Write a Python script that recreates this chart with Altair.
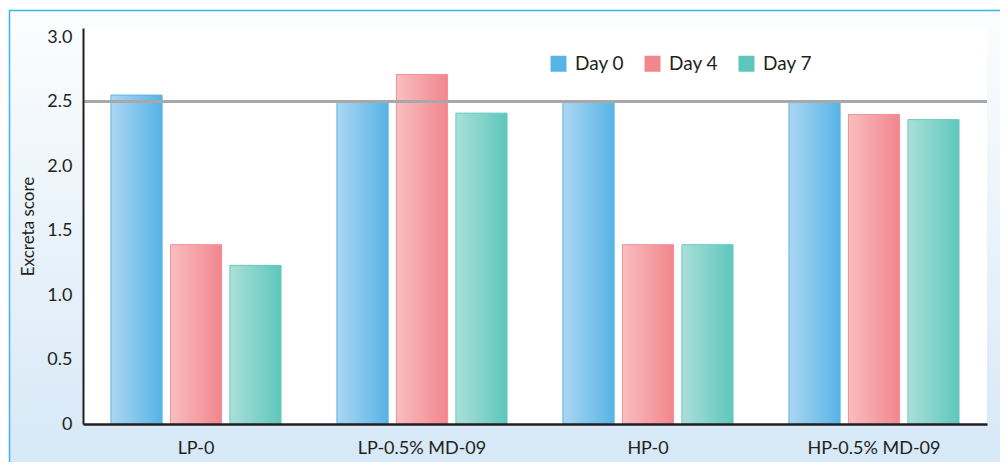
import altair as alt
import pandas as pd

groups = ["LP-0", "LP-0.5% MD-09", "HP-0", "HP-0.5% MD-09"]
days = ["Day 0", "Day 4", "Day 7"]
day0 = [2.55, 2.50, 2.50, 2.50]
day4 = [1.39, 2.71, 1.39, 2.40]
day7 = [1.23, 2.41, 1.39, 2.36]
ref_value = 2.5
y_ticks = [0, 0.5, 1.0, 1.5, 2.0, 2.5, 3.0]

solid = ["#56b4e6", "#f2868d", "#5ec7bc"]
light = ["#acd6f2", "#f8bec1", "#abdfd9"]
edge = ["#5fb6e6", "#f39098", "#6ecbc1"]

FONT = "Lato"
TXT = "#231f20"
W, H = 904, 396

rows = []
for g, a, b, c in zip(groups, day0, day4, day7):
    for d, v in zip(days, [a, b, c]):
        rows.append({"Group": g, "Day": d, "Score": v})
df = pd.DataFrame(rows)

x_enc = alt.X("Group:N", sort=groups,
              scale=alt.Scale(paddingInner=0, paddingOuter=0),
              axis=alt.Axis(title=None, labelAngle=0, labelFontSize=18, labelFont=FONT,
                            labelColor=TXT, labelPadding=15, ticks=False,
                            domainColor=TXT, domainWidth=2.5, zindex=2))
xo_enc = alt.XOffset("Day:N", sort=days,
                     scale=alt.Scale(domain=days, paddingInner=0.14, paddingOuter=0.47))
y_enc = alt.Y("Score:Q",
              scale=alt.Scale(domain=[0, 3.07], nice=False, zero=True),
              axis=alt.Axis(values=y_ticks, grid=False, ticks=False,
                            labelExpr="datum.value == 0 ? '0' : format(datum.value, '.1f')",
                            labelFontSize=18, labelFont=FONT, labelColor=TXT, labelPadding=11,
                            domainColor=TXT, domainWidth=2, zindex=2,
                            title="Excreta score", titleFont=FONT, titleFontSize=17,
                            titleFontWeight="normal", titleColor=TXT,
                            titleX=-55, titleY=H / 2, titleAngle=-90,
                            titleAlign="center", titleBaseline="middle"))

bg_grad = alt.LinearGradient(
    gradient="linear", x1=0, x2=0, y1=0, y2=1,
    stops=[alt.GradientStop(offset=0, color="#fcfdfe"),
           alt.GradientStop(offset=1, color="#d3e6f6")])

background = alt.Chart(alt.Data(values=[{"k": 1}])).mark_rect(
    fill=bg_grad, stroke="#3ab4ea", strokeWidth=1.5
).encode(x=alt.value(-73.5), x2=alt.value(W + 40), y=alt.value(-17.5), y2=alt.value(H + 80))

plot_bg = alt.Chart(alt.Data(values=[{"k": 1}])).mark_rect(fill="white").encode(
    x=alt.value(0), x2=alt.value(W), y=alt.value(0), y2=alt.value(H))

legend_bars = alt.Chart(df).mark_bar().encode(
    x=x_enc, xOffset=xo_enc, y=y_enc,
    color=alt.Color("Day:N", sort=days, scale=alt.Scale(domain=days, range=solid),
                    legend=alt.Legend(title=None, orient="none", legendX=466, legendY=26,
                                      direction="horizontal", symbolType="square",
                                      symbolSize=256, symbolStrokeWidth=0,
                                      labelFont=FONT, labelFontSize=19, labelColor=TXT,
                                      labelOffset=7, columnPadding=18, padding=0))
)

grad_layers = []
for d, l, s, e in zip(days, light, solid, edge):
    g = alt.LinearGradient(gradient="linear", x1=0, x2=1, y1=0, y2=0,
                           stops=[alt.GradientStop(offset=0, color=l),
                                  alt.GradientStop(offset=1, color=s)])
    grad_layers.append(
        alt.Chart(df).transform_filter(alt.datum.Day == d).mark_bar(
            fill=g, stroke=e, strokeWidth=1
        ).encode(x=x_enc, xOffset=xo_enc, y=y_enc)
    )

rule = alt.Chart(alt.Data(values=[{"v": ref_value}])).mark_rule(
    color="#a8a8aa", strokeWidth=3).encode(y=alt.Y("v:Q"))

chart = alt.layer(background, plot_bg, legend_bars, *grad_layers, rule).properties(
    width=W, height=H,
    autosize=alt.AutoSizeParams(type="none"),
    padding={"left": 75, "top": 20, "right": 13, "bottom": 38},
).configure_view(stroke=None).configure(font=FONT)

chart.save("out.html", embed_options={"renderer": "svg", "actions": False})
